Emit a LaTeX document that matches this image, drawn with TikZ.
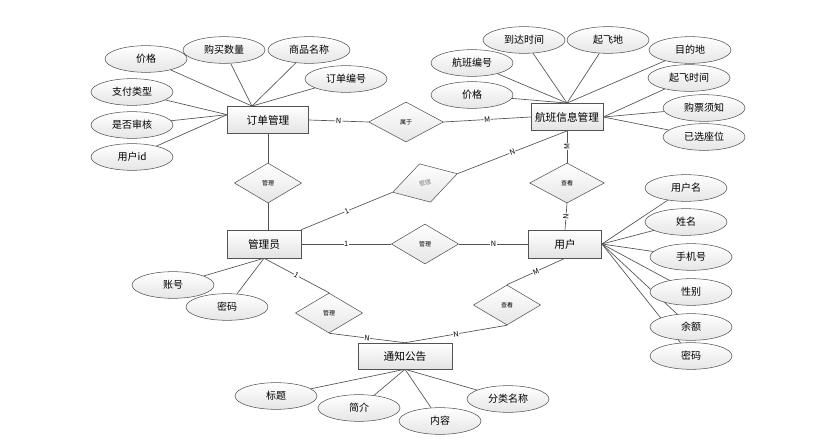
\documentclass[tikz,border=0pt]{standalone}
\usepackage{fontspec}
\setmainfont{Noto Sans CJK SC}
\usetikzlibrary{shapes.geometric,backgrounds}

\tikzset{
  entity/.style={draw=gray!65!black, top color=white, bottom color=gray!22, minimum height=20.5pt, inner sep=0pt, font=\fontsize{8}{9}\selectfont},
  attr/.style={ellipse, draw=gray!65!black, top color=white, bottom color=gray!20, minimum width=61.5pt, minimum height=20pt, inner sep=0pt, font=\fontsize{7.5}{9}\selectfont},
  rel/.style={diamond, draw=gray!65!black, top color=white, bottom color=gray!20, minimum width=50.5pt, minimum height=30pt, inner sep=0pt, font=\fontsize{4.5}{5}\selectfont},
  conn/.style={draw=gray!65!black, line width=0.5pt},
  lab/.style={fill=white, inner sep=0.4pt, font=\fontsize{5.5}{6}\selectfont, sloped}
}

\begin{document}
\begin{tikzpicture}[x=0.75pt,y=-0.75pt]
        \useasboundingbox (0,0) rectangle (835,442);
        % entities
        \node[entity, minimum width=61pt] (dd) at (268,120) {订单管理};
        \node[entity, minimum width=54pt] (hb) at (567,117) {航班信息管理};
        \node[entity, minimum width=55.5pt, minimum height=21pt] (gly) at (264,244) {管理员};
        \node[entity, minimum width=55pt, minimum height=21pt] (yh) at (565,244) {用户};
        \node[entity, minimum width=70.5pt, minimum height=19.5pt] (tz) at (405,356) {通知公告};
        % relations
        \node[rel, minimum width=56pt] (sy) at (406,122) {属于};
        \node[rel] (gl1) at (268,183) {管理};
        \node[rel, rotate=16, text=gray] (gl2) at (425,183) {管理};
        \node[rel, minimum width=56pt] (ck1) at (567,183) {查看};
        \node[rel] (gl3) at (425,244) {管理};
        \node[rel] (gl4) at (329,313) {管理};
        \node[rel] (ck2) at (507,305) {查看};
        % attributes of 订单管理
        \node[attr] (ddjg) at (146,59) {价格};
        \node[attr] (ddsl) at (224,50) {购买数量};
        \node[attr] (ddmc) at (309,50) {商品名称};
        \node[attr] (ddbh) at (346,79) {订单编号};
        \node[attr] (ddzf) at (132,92) {支付类型};
        \node[attr] (ddsh) at (132,125) {是否审核};
        \node[attr] (ddyh) at (132,157) {用户id};
        % attributes of 航班信息管理
        \node[attr] (hbdd) at (524,40) {到达时间};
        \node[attr] (hbqf) at (608,40) {起飞地};
        \node[attr] (hbmd) at (690,50) {目的地};
        \node[attr] (hbbh) at (472,63) {航班编号};
        \node[attr] (hbjg) at (472,95) {价格};
        \node[attr] (hbsj) at (689,78) {起飞时间};
        \node[attr] (hbxz) at (704,108) {购票须知};
        \node[attr] (hbzw) at (704,137) {已选座位};
        % attributes of 用户
        \node[attr] (yhm) at (686,188) {用户名};
        \node[attr] (yxm) at (686,222) {姓名};
        \node[attr] (ysj) at (691,257) {手机号};
        \node[attr] (yxb) at (691,292) {性别};
        \node[attr] (yye) at (691,327) {余额};
        \node[attr] (ymm) at (691,356) {密码};
        % attributes of 管理员
        \node[attr] (gzh) at (173,285) {账号};
        \node[attr] (gmm) at (227,307) {密码};
        % attributes of 通知公告
        \node[attr] (tbt) at (276,396) {标题};
        \node[attr] (tjj) at (359,408) {简介};
        \node[attr] (tnr) at (440,421) {内容};
        \node[attr] (tfl) at (508,399) {分类名称};

        \begin{scope}[on background layer]
        \coordinate (ddt) at ([xshift=-12pt]dd.north);
        \coordinate (ddw) at ([yshift=4pt]dd.west);
        \foreach \a in {ddjg,ddsl,ddmc,ddbh} \draw[conn] (\a) -- (ddt);
        \foreach \a in {ddzf,ddsh,ddyh} \draw[conn] (\a) -- (ddw);
        \foreach \a in {hbdd,hbqf,hbmd,hbbh,hbjg} \draw[conn] (\a) -- (hb.north);
        \foreach \a in {hbsj,hbxz,hbzw} \draw[conn] (\a) -- (hb.east);
        \foreach \a in {yhm,yxm,ysj,yxb,yye,ymm} \draw[conn] (\a.center) -- (yh.east);
        \foreach \a in {gzh,gmm} \draw[conn] (\a) -- (gly.south);
        \foreach \a in {tbt,tjj,tnr,tfl} \draw[conn] (\a) -- (tz.south);
        \end{scope}

        % relationships
        \draw[conn] (dd.east) -- node[lab]{N} (sy.west);
        \draw[conn] (sy.east) -- node[lab]{M} (hb.west);
        \draw[conn] (dd.south) -- (gl1.north);
        \draw[conn] (gl1.south) -- ([xshift=3pt]gly.north);
        \draw[conn] (gly.north east) -- node[lab]{1} (gl2.west);
        \draw[conn] (gl2.east) -- node[lab]{N} (hb.south);
        \draw[conn] (ck1.north) -- node[lab]{M} (hb.south);
        \draw[conn] (yh.north) -- node[lab]{N} (ck1.south);
        \draw[conn] (gly.east) -- node[lab]{1} (gl3.west);
        \draw[conn] (gl3.east) -- node[lab]{N} (yh.west);
        \draw[conn] (gly.south) -- node[lab]{1} (gl4.north);
        \draw[conn] (gl4.south) -- node[lab]{N} (tz.north);
        \draw[conn] (yh.south) -- node[lab]{M} (ck2.north);
        \draw[conn] (ck2.south) -- node[lab]{N} (tz.north);
    \end{tikzpicture}
\end{document}
